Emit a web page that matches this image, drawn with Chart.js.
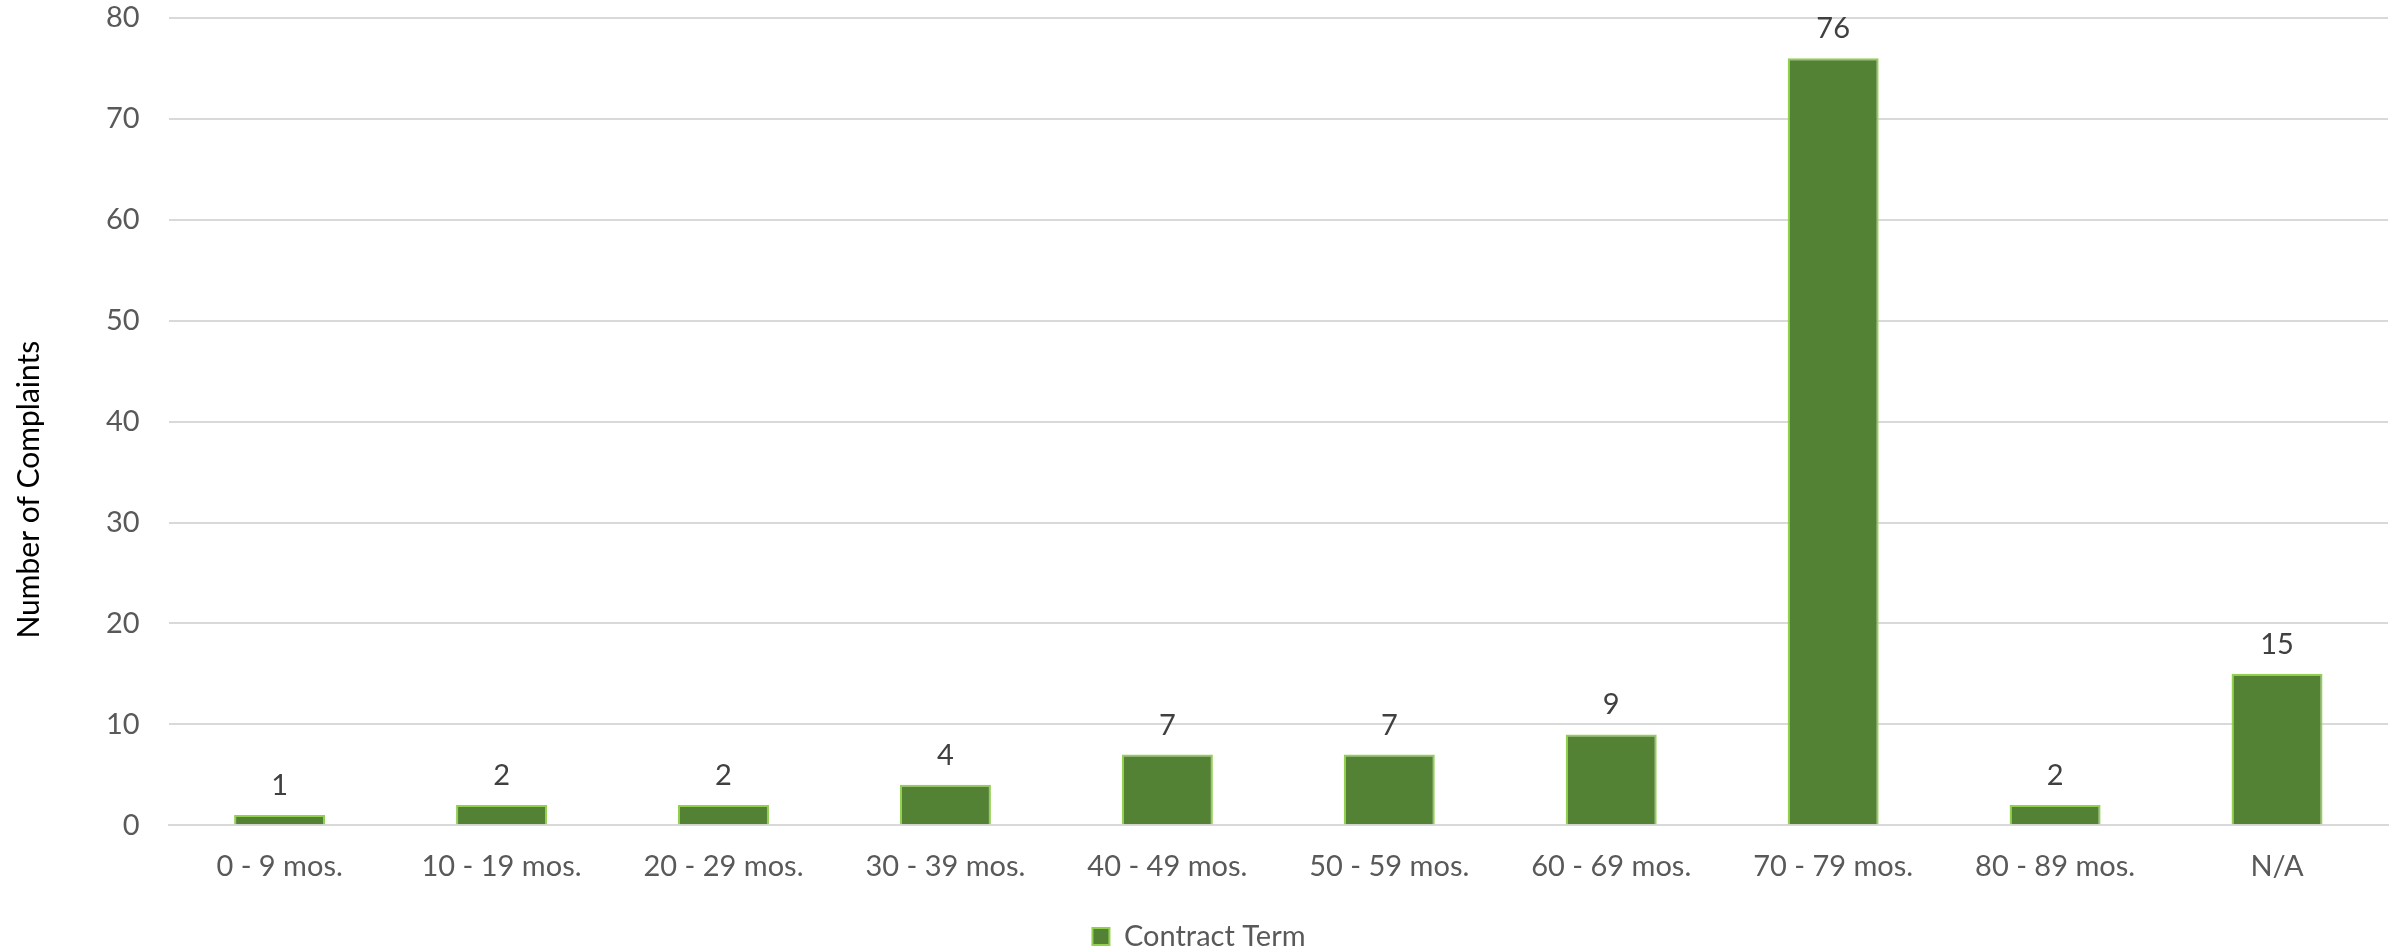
<!DOCTYPE html>
<html>
<head>
<meta charset="utf-8">
<script src="https://cdn.jsdelivr.net/npm/chart.js@4/dist/chart.umd.min.js"></script>
<style>
  html, body { margin: 0; padding: 0; background: #ffffff; }
  #wrap { width: 2408px; height: 950px; position: relative; }
</style>
</head>
<body>
<div id="wrap"><canvas id="chart" width="2408" height="950"></canvas></div>
<script>
// Complaints grouped by contract term
const categories = ['0 - 9 mos.', '10 - 19 mos.', '20 - 29 mos.', '30 - 39 mos.', '40 - 49 mos.',
                    '50 - 59 mos.', '60 - 69 mos.', '70 - 79 mos.', '80 - 89 mos.', 'N/A'];
const complaints = [1, 2, 2, 4, 7, 7, 9, 76, 2, 15];
const seriesName = 'Contract Term';
const axisTitle = 'Number of Complaints';
const yTicks = [0, 10, 20, 30, 40, 50, 60, 70, 80];

const FONT = 'Lato, "Open Sans", sans-serif';

// Value labels above each bar
const barValueLabels = {
  id: 'barValueLabels',
  afterDatasetsDraw(chart) {
    const ctx = chart.ctx;
    ctx.save();
    ctx.font = '29px ' + FONT;
    ctx.fillStyle = '#404040';
    ctx.textAlign = 'center';
    ctx.textBaseline = 'alphabetic';
    chart.data.datasets.forEach((ds, di) => {
      chart.getDatasetMeta(di).data.forEach((bar, i) => {
        ctx.fillText(String(ds.data[i]), bar.x, bar.y - 20);
      });
    });
    ctx.restore();
  }
};

// Vertical value-axis title, set slightly below the middle of the plot
const valueAxisTitle = {
  id: 'valueAxisTitle',
  afterDraw(chart) {
    const ctx = chart.ctx;
    const area = chart.chartArea;
    ctx.save();
    ctx.font = '30px ' + FONT;
    ctx.fillStyle = '#000000';
    ctx.textAlign = 'center';
    ctx.textBaseline = 'middle';
    ctx.translate(29, (area.top + area.bottom) / 2 + 68);
    ctx.rotate(-Math.PI / 2);
    ctx.fillText(axisTitle, 0, 0);
    ctx.restore();
  }
};

new Chart(document.getElementById('chart'), {
  type: 'bar',
  data: {
    labels: categories,
    datasets: [{
      label: seriesName,
      data: complaints,
      backgroundColor: '#548235',
      borderColor: '#92d050',
      borderWidth: 2,
      barPercentage: 0.41,
      categoryPercentage: 1.0
    }]
  },
  options: {
    responsive: false,
    animation: false,
    layout: { padding: { left: 10, right: 20, top: 0, bottom: -11 } },
    plugins: {
      tooltip: { enabled: false },
      legend: {
        position: 'bottom',
        labels: {
          font: { family: FONT, size: 29 },
          color: '#595959',
          boxWidth: 17,
          boxHeight: 17,
          padding: 0
        }
      }
    },
    scales: {
      x: {
        grid: { display: false, drawTicks: false },
        border: { display: true, color: '#d9d9d9', width: 2 },
        ticks: {
          font: { family: FONT, size: 29 },
          color: '#595959',
          padding: 24,
          maxRotation: 0,
          autoSkip: false
        },
        afterFit(scale) { scale.height += 14; }
      },
      y: {
        min: 0,
        max: 80,
        afterBuildTicks(scale) { scale.ticks = yTicks.map(v => ({ value: v })); },
        afterFit(scale) {
          scale.paddingTop = 18;
          scale.paddingBottom = 18;
          scale.width += 67; // room for the rotated axis title
        },
        grid: { color: '#d9d9d9', lineWidth: 2, drawTicks: false },
        border: { display: false },
        ticks: {
          font: { family: FONT, size: 29 },
          color: '#595959',
          padding: 29
        }
      }
    }
  },
  plugins: [barValueLabels, valueAxisTitle]
});
</script>
</body>
</html>
